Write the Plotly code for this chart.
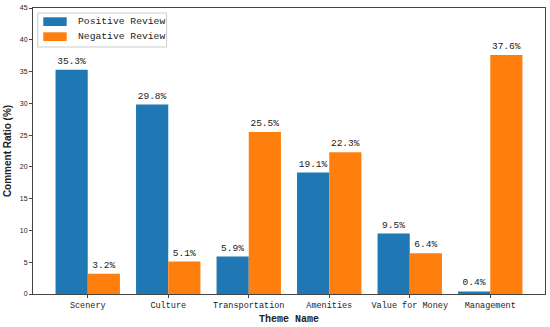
import plotly.graph_objects as go

categories = ["Scenery", "Culture", "Transportation", "Amenities", "Value for Money", "Management"]
positive = [35.3, 29.8, 5.9, 19.1, 9.5, 0.4]
negative = [3.2, 5.1, 25.5, 22.3, 6.4, 37.6]
series_names = ["Positive Review", "Negative Review"]
colors = ["#1f77b4", "#ff7f0e"]

MONO = "Liberation Mono, DejaVu Sans Mono, monospace"

fig = go.Figure()
for name, vals, col in zip(series_names, [positive, negative], colors):
    fig.add_trace(go.Bar(
        x=list(range(len(categories))), y=vals, name=name,
        marker=dict(color=col, line=dict(width=0)),
        texttemplate="%{y:.1f}%", textposition="outside",
        textfont=dict(family=MONO, size=9.5, color="#222"),
        cliponaxis=False, showlegend=False,
    ))

# Custom compact legend (matplotlib-like), in plot-domain paper coordinates
fig.add_shape(type="rect", xref="paper", yref="paper",
              x0=0.0092, x1=0.261, y0=0.8636, y1=0.9825,
              line=dict(color="#cccccc", width=1), fillcolor="rgba(255,255,255,0.85)", layer="above")
legend_rows = [(0.9675, 0.937), (0.915, 0.8846)]
for (yt, yb), name, col in zip(legend_rows, series_names, colors):
    fig.add_shape(type="rect", xref="paper", yref="paper",
                  x0=0.0201, x1=0.0658, y0=yb, y1=yt,
                  line=dict(width=0), fillcolor=col, layer="above")
    fig.add_annotation(xref="paper", yref="paper", x=0.084, y=(yt + yb) / 2,
                       xanchor="left", yanchor="middle", showarrow=False,
                       text=name, font=dict(family=MONO, size=9.7, color="#222"))

fig.update_layout(
    width=550, height=327,
    margin=dict(l=33, r=5, t=8, b=33),
    barmode="group", bargap=0.2, bargroupgap=0,
    plot_bgcolor="white", paper_bgcolor="white",
    showlegend=False,
)
fig.update_xaxes(
    tickmode="array", tickvals=list(range(len(categories))), ticktext=categories,
    range=[-0.68, 5.68],
    showline=True, linecolor="#444", linewidth=1, mirror=True,
    ticks="outside", ticklen=3, tickcolor="#444",
    tickfont=dict(family=MONO, size=8.5, color="#222"),
    showgrid=False,
    title=dict(text="<b>Theme Name</b>", font=dict(family=MONO, size=10, color="#222"), standoff=4),
)
fig.update_yaxes(
    range=[0, 45], dtick=5,
    showline=True, linecolor="#444", linewidth=1, mirror=True,
    ticks="outside", ticklen=3, tickcolor="#444",
    tickfont=dict(family="Liberation Sans, Arial", size=7, color="#222"),
    showgrid=False, zeroline=False,
    title=dict(text="<b>Comment Ratio (%)</b>", font=dict(family="Liberation Sans, Arial", size=10, color="#222"), standoff=6),
)
fig.write_html("out.html", config={"displayModeBar": False},
               post_script="document.body.style.margin='0';")
